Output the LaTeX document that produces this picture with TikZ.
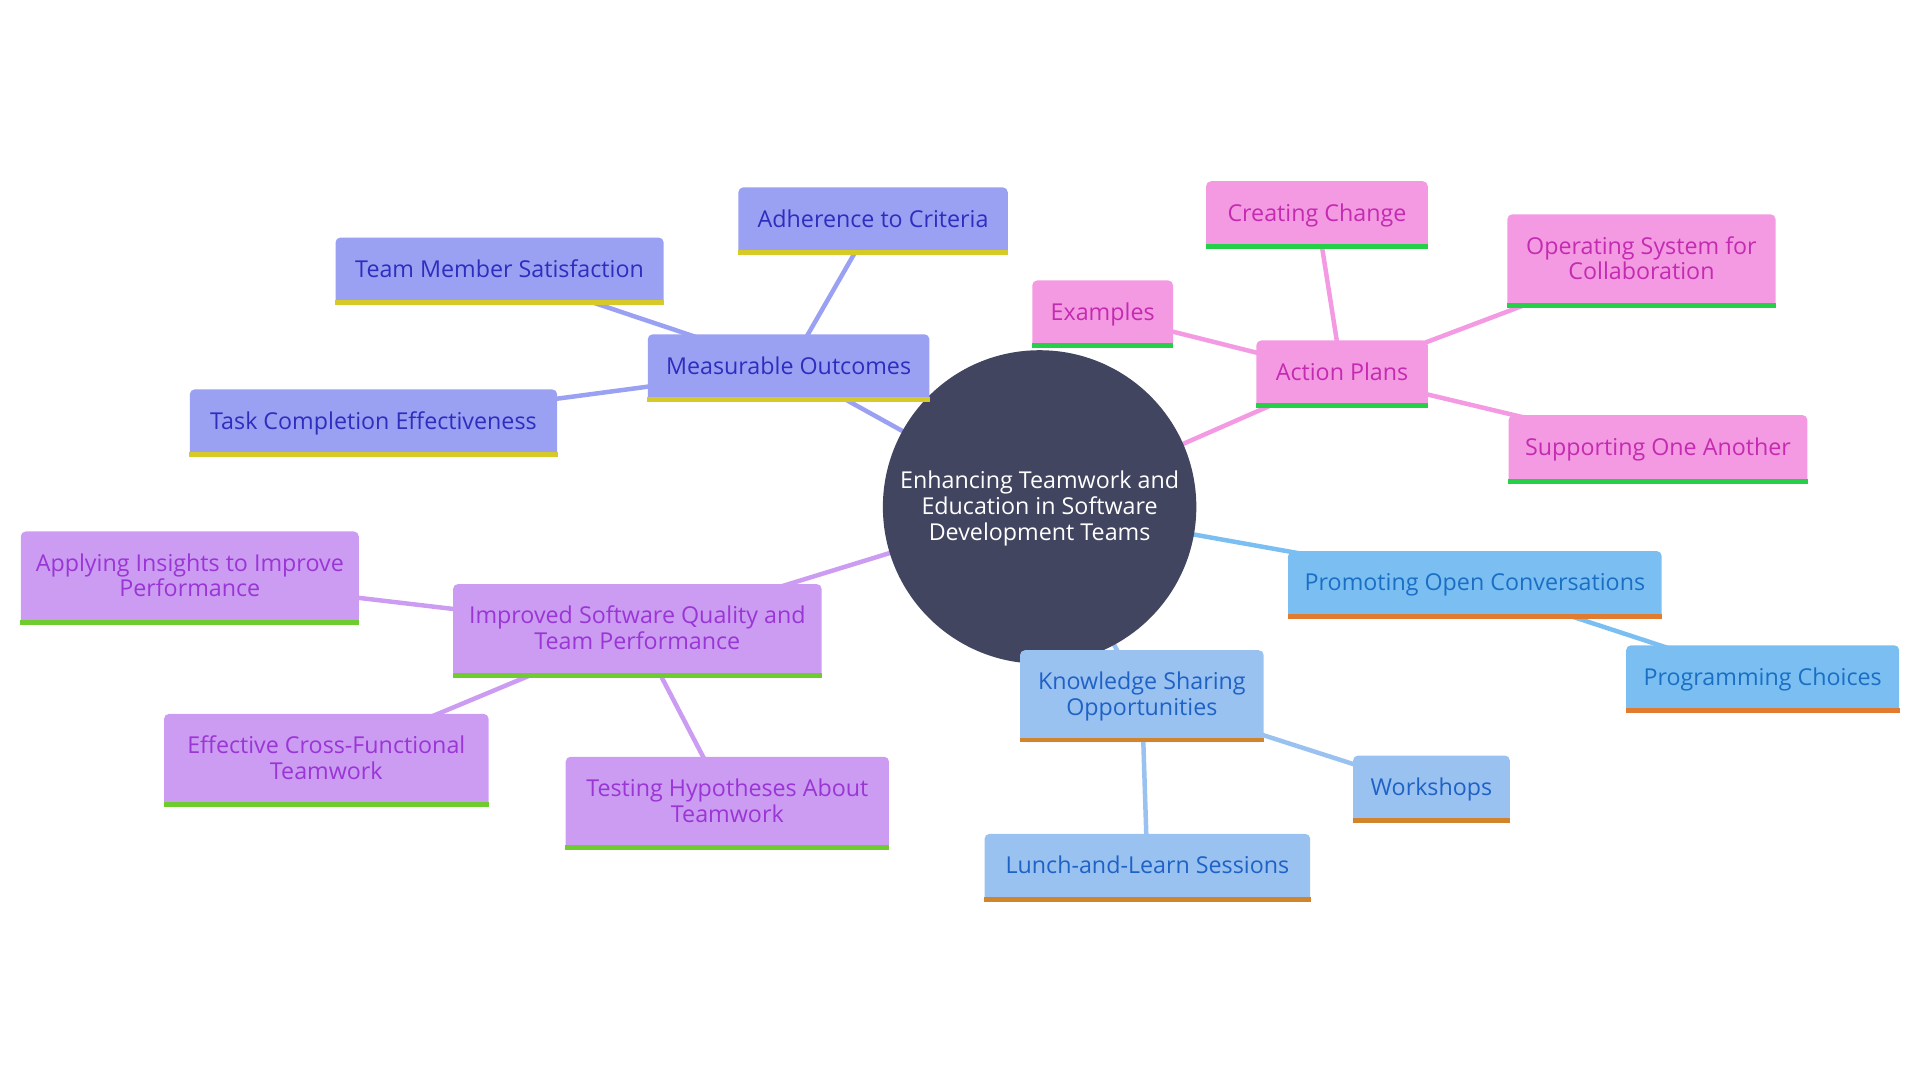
\documentclass[tikz,border=0pt]{standalone}
\usepackage{fontspec}
\setmainfont{Open Sans}
\usetikzlibrary{backgrounds}
\definecolor{moFill}{HTML}{9AA0F2}
\definecolor{moText}{HTML}{2E2EBE}
\definecolor{moLine}{HTML}{D6C928}
\definecolor{apFill}{HTML}{F39AE3}
\definecolor{apText}{HTML}{C42BB0}
\definecolor{apLine}{HTML}{25CF47}
\definecolor{pcFill}{HTML}{7BBFF2}
\definecolor{pcText}{HTML}{1A6FC4}
\definecolor{pcLine}{HTML}{E07B30}
\definecolor{ksFill}{HTML}{9AC2F0}
\definecolor{ksText}{HTML}{1F62C6}
\definecolor{ksLine}{HTML}{D2842C}
\definecolor{isFill}{HTML}{CC9CF2}
\definecolor{isText}{HTML}{9A35D6}
\definecolor{isLine}{HTML}{6ECC2E}
\definecolor{hub}{HTML}{414560}
\newcommand{\fs}{\fontsize{11.4pt}{12.6pt}\selectfont}
\newcommand{\lift}[2]{\raisebox{#1}[\height][\depth]{\begin{tabular}{@{}c@{}}#2\end{tabular}}}
\tikzset{
  box/.style={rectangle, rounded corners=2.4pt, inner sep=0pt, align=center, font=\fs},
  wh/.style 2 args={minimum width=#1*0.6pt, minimum height=#2*0.6pt},
  mo/.style={box, fill=moFill, text=moText},
  ap/.style={box, fill=apFill, text=apText},
  pc/.style={box, fill=pcFill, text=pcText},
  ks/.style={box, fill=ksFill, text=ksText},
  is/.style={box, fill=isFill, text=isText},
  link/.style={line width=2.2pt},
}
\begin{document}
\begin{tikzpicture}[x=0.6pt, y=-0.6pt]
\useasboundingbox (0,0) rectangle (1568,882);
% nodes
\node[circle, fill=hub, text=white, minimum size=256*0.6pt, inner sep=0pt, align=center, font=\fs] (hubn) at (849,414) {\lift{-1.2pt}{Enhancing Teamwork and\\Education in Software\\Development Teams}};
\node[mo, wh={230}{55}] (mo) at (644,300.5) {\lift{-0.5pt}{Measurable Outcomes}};
\node[mo, wh={220}{55}] (adh) at (713,180.5) {\lift{-0.5pt}{Adherence to Criteria}};
\node[mo, wh={268}{55}] (tms) at (408,221.5) {\lift{-0.5pt}{Team Member Satisfaction}};
\node[mo, wh={300}{55}] (tce) at (305,345.5) {\lift{-0.5pt}{Task Completion Effectiveness}};
\node[ap, wh={140}{55}] (ap) at (1096,305.5) {\lift{-0.5pt}{Action Plans}};
\node[ap, wh={181}{55}] (cc) at (1075.5,175.5) {\lift{-0.5pt}{Creating Change}};
\node[ap, wh={115}{55}] (ex) at (900.5,256.5) {\lift{-0.5pt}{Examples}};
\node[ap, wh={219}{76}] (os) at (1340.5,213) {\lift{-0.5pt}{Operating System for\\Collaboration}};
\node[ap, wh={244}{56}] (soa) at (1354,367) {\lift{-0.5pt}{Supporting One Another}};
\node[pc, wh={305}{55}] (poc) at (1204.5,477.5) {\lift{-0.5pt}{Promoting Open Conversations}};
\node[pc, wh={223}{55}] (pch) at (1439.5,554.5) {\lift{-0.5pt}{Programming Choices}};
\node[ks, wh={199}{75}] (ks) at (932.5,568.5) {\lift{-0.5pt}{Knowledge Sharing\\Opportunities}};
\node[ks, wh={128}{55}] (ws) at (1169,644.5) {\lift{-0.5pt}{Workshops}};
\node[ks, wh={266}{55}] (ll) at (937,708.5) {\lift{-0.5pt}{Lunch-and-Learn Sessions}};
\node[is, wh={301}{76}] (isq) at (520.5,515) {\lift{-0.5pt}{Improved Software Quality and\\Team Performance}};
\node[is, wh={276}{76}] (ai) at (155,472) {\lift{-0.5pt}{Applying Insights to Improve\\Performance}};
\node[is, wh={265}{76}] (ecf) at (266.5,621) {\lift{-0.5pt}{Effective Cross-Functional\\Teamwork}};
\node[is, wh={264}{76}] (th) at (594,656) {\lift{-0.5pt}{Testing Hypotheses About\\Teamwork}};
% stripes
\foreach \n/\c in {mo/moLine, adh/moLine, tms/moLine, tce/moLine,
  ap/apLine, cc/apLine, ex/apLine, os/apLine, soa/apLine,
  poc/pcLine, pch/pcLine, ks/ksLine, ws/ksLine, ll/ksLine,
  isq/isLine, ai/isLine, ecf/isLine, th/isLine}
  \fill[\c] (\n.south west) rectangle ([yshift=2.4pt]\n.south east);
% connectors behind
\begin{scope}[on background layer]
  \draw[link, moFill] (hubn.center) -- (mo.center);
  \draw[link, moFill] (mo.center) -- (adh.center);
  \draw[link, moFill] (mo.center) -- (tms.center);
  \draw[link, moFill] (mo.center) -- (tce.center);
  \draw[link, apFill] (hubn.center) -- (ap.center);
  \draw[link, apFill] (ap.center) -- (cc.center);
  \draw[link, apFill] (ap.center) -- (ex.center);
  \draw[link, apFill] (ap.center) -- (os.center);
  \draw[link, apFill] (ap.center) -- (soa.center);
  \draw[link, pcFill] (hubn.center) -- (poc.center);
  \draw[link, pcFill] (poc.center) -- (pch.center);
  \draw[link, ksFill] (hubn.center) -- (ks.center);
  \draw[link, ksFill] (ks.center) -- (ws.center);
  \draw[link, ksFill] (ks.center) -- (ll.center);
  \draw[link, isFill] (hubn.center) -- (isq.center);
  \draw[link, isFill] (isq.center) -- (ai.center);
  \draw[link, isFill] (isq.center) -- (ecf.center);
  \draw[link, isFill] (isq.center) -- (th.center);
\end{scope}
\end{tikzpicture}
\end{document}
